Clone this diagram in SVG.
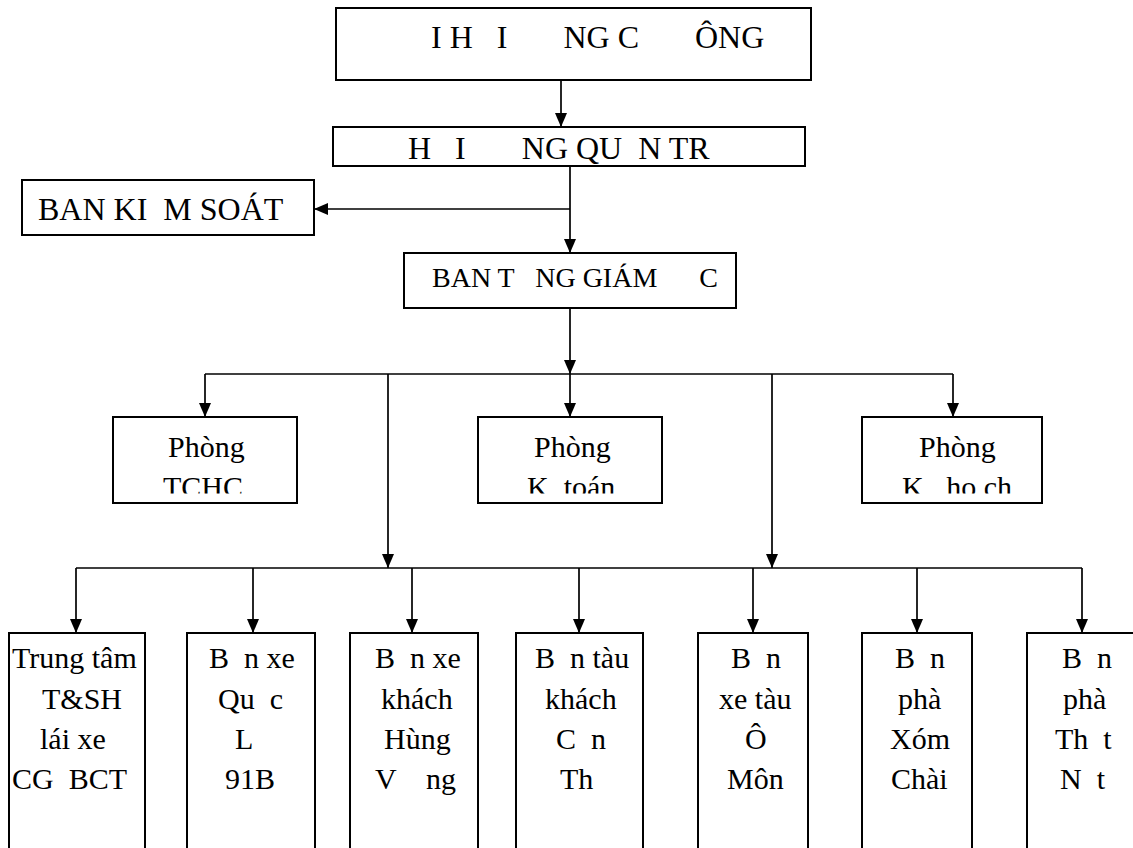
<svg xmlns="http://www.w3.org/2000/svg" width="1133" height="848" viewBox="0 0 1133 848">
<style>
.box{fill:#fff;stroke:#000;stroke-width:2}
.ln{fill:none;stroke:#000;stroke-width:1.7}
.ar{fill:none;stroke:#000;stroke-width:1.7;marker-end:url(#ah)}
text{font-family:"Liberation Serif","Times New Roman",serif;fill:#000;white-space:pre}
.t32{font-size:32px}
.t30{font-size:30px}
.t28{font-size:28px}
</style>
<defs>
<marker id="ah" viewBox="0 0 14 12" refX="14" refY="6" markerWidth="14" markerHeight="12" markerUnits="userSpaceOnUse" orient="auto"><path d="M0,0 L14,6 L0,12 z" fill="#000"/></marker>
<clipPath id="cp"><rect x="100" y="400" width="960" height="93.5"/></clipPath>
</defs>
<rect width="1133" height="848" fill="#fff"/>
<g id="connectors">
<line class="ar" x1="561" y1="80" x2="561" y2="127"/>
<line class="ar" x1="570" y1="166" x2="570" y2="253"/>
<line class="ar" x1="570" y1="209" x2="314" y2="209"/>
<line class="ar" x1="570" y1="308" x2="570" y2="374"/>
<line class="ln" x1="205" y1="374" x2="953" y2="374"/>
<line class="ar" x1="570" y1="374" x2="570" y2="417"/>
<line class="ar" x1="205" y1="374" x2="205" y2="417"/>
<line class="ar" x1="953" y1="374" x2="953" y2="417"/>
<line class="ar" x1="388" y1="374" x2="388" y2="568"/>
<line class="ar" x1="772" y1="374" x2="772" y2="568"/>
<line class="ln" x1="76" y1="568" x2="1082" y2="568"/>
<line class="ar" x1="76" y1="568" x2="76" y2="633"/>
<line class="ar" x1="253" y1="568" x2="253" y2="633"/>
<line class="ar" x1="412" y1="568" x2="412" y2="633"/>
<line class="ar" x1="579" y1="568" x2="579" y2="633"/>
<line class="ar" x1="753" y1="568" x2="753" y2="633"/>
<line class="ar" x1="917" y1="568" x2="917" y2="633"/>
<line class="ar" x1="1082" y1="568" x2="1082" y2="633"/>
</g>
<g id="n-dhdcd"><rect class="box" x="336" y="8" width="475" height="72"/><text class="t32" x="431" y="48" xml:space="preserve">I H   I       NG C       ÔNG</text></g>
<g id="n-hdqt"><rect class="box" x="333" y="127" width="472" height="39"/><text class="t32" x="408" y="159" xml:space="preserve">H   I       NG QU  N TR</text></g>
<g id="n-bks"><rect class="box" x="22" y="180" width="292" height="55"/><text class="t32" x="38" y="220" xml:space="preserve">BAN KI  M SOÁT</text></g>
<g id="n-btgd"><rect class="box" x="404" y="253" width="332" height="55"/><text class="t28" x="432" y="287" xml:space="preserve">BAN T   NG GIÁM      C</text></g>
<g id="n-tchc"><rect class="box" x="113" y="417" width="184" height="86"/><text class="t30" x="168" y="457">Phòng</text><text class="t30" x="163" y="497" clip-path="url(#cp)">TCHC</text></g>
<g id="n-kt"><rect class="box" x="478" y="417" width="184" height="86"/><text class="t30" x="534" y="457">Phòng</text><text class="t30" x="527" y="497" clip-path="url(#cp)" xml:space="preserve">K  toán</text></g>
<g id="n-kh"><rect class="box" x="862" y="417" width="180" height="86"/><text class="t30" x="919" y="457">Phòng</text><text class="t30" x="902" y="497" clip-path="url(#cp)" xml:space="preserve">K   ho ch</text></g>
<g id="n-tt"><rect class="box" x="9" y="633" width="136" height="230"/><text class="t30" x="12" y="668">Trung tâm</text><text class="t30" x="42" y="709">T&amp;SH</text><text class="t30" x="40" y="749">lái xe</text><text class="t30" x="12" y="789" xml:space="preserve">CG  BCT</text></g>
<g id="n-ql91"><rect class="box" x="187" y="633" width="128" height="230"/><text class="t30" x="209" y="668" xml:space="preserve">B  n xe</text><text class="t30" x="218" y="709" xml:space="preserve">Qu  c</text><text class="t30" x="235" y="749">L</text><text class="t30" x="225" y="789">91B</text></g>
<g id="n-hv"><rect class="box" x="350" y="633" width="128" height="230"/><text class="t30" x="375" y="668" xml:space="preserve">B  n xe</text><text class="t30" x="381" y="709">khách</text><text class="t30" x="384" y="749">Hùng</text><text class="t30" x="375" y="789" xml:space="preserve">V    ng</text></g>
<g id="n-ct"><rect class="box" x="516" y="633" width="127" height="230"/><text class="t30" x="535" y="668" xml:space="preserve">B  n tàu</text><text class="t30" x="545" y="709">khách</text><text class="t30" x="556" y="749" xml:space="preserve">C  n</text><text class="t30" x="560" y="789">Th</text></g>
<g id="n-om"><rect class="box" x="698" y="633" width="110" height="230"/><text class="t30" x="731" y="668" xml:space="preserve">B  n</text><text class="t30" x="719" y="709">xe tàu</text><text class="t30" x="745" y="749">Ô</text><text class="t30" x="727" y="789">Môn</text></g>
<g id="n-xc"><rect class="box" x="862" y="633" width="110" height="230"/><text class="t30" x="895" y="668" xml:space="preserve">B  n</text><text class="t30" x="898" y="709">phà</text><text class="t30" x="890" y="749">Xóm</text><text class="t30" x="891" y="789">Chài</text></g>
<g id="n-tn"><rect class="box" x="1027" y="633" width="120" height="230"/><text class="t30" x="1062" y="668" xml:space="preserve">B  n</text><text class="t30" x="1063" y="709">phà</text><text class="t30" x="1055" y="749" xml:space="preserve">Th  t</text><text class="t30" x="1060" y="789" xml:space="preserve">N  t</text></g>
</svg>
